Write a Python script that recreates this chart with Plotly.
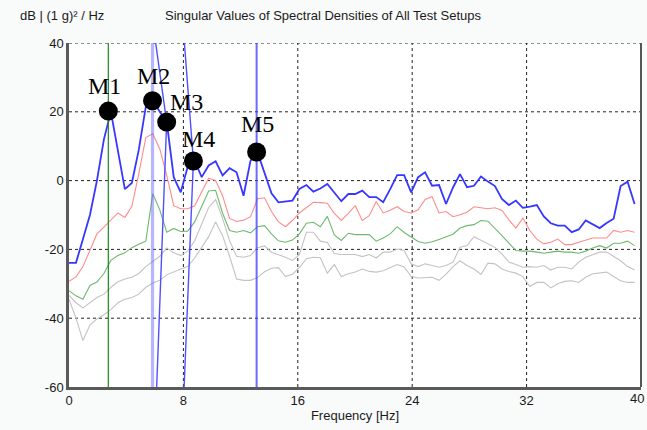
import numpy as np
import plotly.graph_objects as go

# ---------------- data ----------------
df_hz = 0.48828125
freq = [round(k * df_hz, 5) for k in range(82)]

sv1_blue = [-23.9, -23.9, -17, -10, 0, 12, 20, 9, -2.5, -0.7,
            9, 21.5, 23.3, 20, 17, 1, -3.4, 4, 5.8, 1.0,
            4.4, 5.6, 1.5, 3.6, 2.4, -4.4, 5.8, 8.2, 2, -3.7,
            -6.3, -6.1, -5.8, -2.4, -1.3, -3.2, -2.3, -1.0, -3.5, -6.0,
            -3.9, -3.9, -2.9, -4.8, -4.8, -6.3, -2.5, 1.6, 1.6, -3.4,
            1.0, 2.4, -1.5, -1.3, -6.8, -2.0, 1.9, -1.9, -1.5, 1.2,
            -0.3, -1.6, -5.3, -7.1, -5.8, -7.9, -7.6, -7.1, -10.4, -12.4,
            -13.1, -13.1, -15.0, -14.2, -11.6, -12.8, -13.8, -12.3, -11.1, -1.6,
            -0.3, -6.8]

sv2_red = [-29.3, -28, -25, -20, -15.5, -13.5, -11.3, -9.4, -10.7, -7.5,
           2, 12.5, 13.6, 9.2, 1.5, -7.3, -8.2, -8.2, -7.3, -3.4,
           0.7, 0, -4.4, -11, -11.9, -11.5, -10.5, -5.3, -5, -9,
           -12, -13.4, -11.6, -9.4, -7.8, -6.3, -6.4, -6.6, -9.5, -11.6,
           -9.5, -7.3, -11.6, -10.2, -6.1, -9.4, -8.6, -7.6, -9.0, -9.4,
           -8.5, -5.5, -4.7, -9.4, -9.0, -10.5, -9.9, -9.2, -7.6, -7.9,
           -8.2, -7.9, -8.7, -11.4, -13.8, -10.9, -14.5, -17.0, -18.4, -17.9,
           -17.0, -18.6, -18.6, -17.9, -17.2, -16.7, -16.7, -16.7, -14.5, -15.0,
           -14.5, -15.0]

sv3_green = [-32, -33.5, -34.5, -30.5, -29.5, -27, -23.2, -21.8, -21, -19.5,
             -18.5, -17.6, -3.8, -8.5, -15.0, -13.9, -14.8, -14.7, -12, -7.3,
             -3.0, -2.8, -9.5, -14.5, -15.0, -14.5, -15.2, -13.4, -13.1, -15.5,
             -17.5, -17.9, -17.3, -15.5, -12.4, -12.1, -13.4, -10.4, -15.8, -17.4,
             -15.3, -15.7, -15.7, -15.7, -17.6, -16.7, -15.5, -13.4, -15.1, -16.3,
             -17.7, -18.2, -17.8, -17.1, -16.3, -15.6, -13.8, -13.1, -12.8, -11.6,
             -11.8, -13.8, -16.0, -18.2, -20.3, -20.5, -20.5, -20.8, -21.1, -20.8,
             -20.5, -20.8, -20.8, -21.1, -20.5, -19.6, -18.9, -19.6, -18.2, -18.2,
             -17.6, -18.9]

sv4_gray = [-33.4, -35.5, -37, -35.4, -34, -33, -31, -29.4, -28.6, -28.1,
            -27, -25, -23.5, -22, -19.6, -21, -21.8, -20.5, -17.5, -12.5,
            -7.8, -5.5, -11, -17.5, -22, -22.3, -21.8, -19.5, -19.0, -20.8,
            -21.5, -22.3, -23.2, -21.5, -15.0, -15.0, -17.6, -18.0, -21.2, -21.5,
            -21.5, -21.5, -22.1, -21.5, -22.5, -20.8, -20.8, -19.9, -20.3, -24.2,
            -25.0, -24.2, -24.7, -25.2, -24.7, -23.7, -19.4, -18.9, -16.3, -17.4,
            -18.4, -19.4, -21.3, -23.7, -24.4, -25.2, -25.0, -25.2, -24.7, -26.0,
            -25.2, -25.2, -25.7, -23.7, -22.3, -21.5, -20.8, -20.8, -22.1, -23.3,
            -25.0, -26.0]

sv5_gray = [-34.5, -40, -46.5, -42, -40.2, -39, -37.5, -35.5, -34.5, -34,
            -33, -31, -29.8, -29, -27.4, -26.5, -25.7, -25, -22.5, -19.4,
            -16.3, -12, -16, -22, -28.6, -29.0, -29.0, -28.2, -26.5, -25.5,
            -25.3, -27.9, -27.2, -25.3, -22.7, -22.3, -22.4, -26.9, -24.4, -27.9,
            -27.1, -26.6, -25.7, -26.4, -26.6, -26.2, -25.2, -24.4, -25.1, -27.9,
            -28.3, -28.3, -28.1, -29.0, -27.2, -25.0, -23.3, -24.7, -25.7, -27.3,
            -24.0, -24.2, -25.7, -26.4, -26.9, -27.9, -30.8, -29.6, -29.6, -31.2,
            -30.0, -29.3, -29.1, -29.6, -28.1, -27.1, -26.9, -26.6, -27.9, -29.1,
            -29.6, -29.6]

mode_labels = ["M1", "M2", "M3", "M4", "M5"]
mode_freq = [2.75, 5.84, 6.83, 8.70, 13.12]
mode_db = [20.2, 23.2, 17.0, 5.7, 8.3]
# mode indicator lines: frequency where each line leaves the top / bottom of the plot
ind_top_freq = [2.75, 5.84, 6.06, 8.07, 13.12]
ind_bot_freq = [2.75, 5.84, 6.13, 8.05, 13.12]

x_ticks = [0, 8, 16, 24, 32, 40]
y_ticks = [-60, -40, -20, 0, 20, 40]
x_range = [0, 40]
y_range = [-60, 40]

# ---------------- styles ----------------
curve_styles = [
    (sv5_gray, "rgb(195,195,195)", 1.1),
    (sv4_gray, "rgb(195,195,195)", 1.1),
    (sv3_green, "rgb(110,185,110)", 1.1),
    (sv2_red, "rgb(255,140,140)", 1.1),
    (sv1_blue, "rgb(55,55,255)", 1.8),
]
ind_styles = [
    ("rgb(30,135,30)", 1.2),
    ("rgba(110,110,255,0.5)", 3.2),
    ("rgb(80,80,255)", 1.4),
    ("rgb(80,80,255)", 1.4),
    ("rgba(70,70,255,0.8)", 2.0),
]
label_shift = [(-4, 25), (1, 25), (20, 20), (5, 22), (1, 28)]

W, H = 647, 430
ml, mr, mt, mb = 69, 6, 43, 43
pw = W - ml - mr
ph = H - mt - mb

fig = go.Figure()

# dotted grid lines as line traces (drawn first, under the curves)
grid_style = dict(color="#222222", width=1, dash="dot")
for xv in x_ticks[1:]:
    fig.add_trace(go.Scatter(x=[xv, xv], y=y_range, mode="lines",
                             line=grid_style, hoverinfo="skip", cliponaxis=False))
for yv in y_ticks[1:]:
    fig.add_trace(go.Scatter(x=x_range, y=[yv, yv], mode="lines",
                             line=grid_style, hoverinfo="skip", cliponaxis=False))

for ys, col, w in curve_styles:
    fig.add_trace(go.Scatter(x=freq, y=ys, mode="lines",
                             line=dict(color=col, width=w), hoverinfo="skip"))

for i in range(len(mode_freq)):
    col, w = ind_styles[i]
    fig.add_trace(go.Scatter(
        x=[ind_top_freq[i], mode_freq[i], ind_bot_freq[i]],
        y=[y_range[1], mode_db[i], y_range[0]],
        mode="lines", line=dict(color=col, width=w), hoverinfo="skip"))

fig.add_trace(go.Scatter(x=mode_freq, y=mode_db, mode="markers",
                         marker=dict(color="black", size=19, line=dict(width=0)),
                         hoverinfo="skip"))

for i, lab in enumerate(mode_labels):
    dx, dy = label_shift[i]
    fig.add_annotation(x=mode_freq[i], y=mode_db[i], text=lab, showarrow=False,
                       xshift=dx, yshift=dy, xanchor="center", yanchor="middle",
                       font=dict(family="Liberation Sans" if False else "Liberation Serif",
                                 size=24, color="black"))

axis_font = dict(family="Liberation Sans", size=13, color="#1a1a1a")

# last x tick label (sits at the page edge)
fig.add_annotation(xref="x", yref="paper", x=x_ticks[-1], y=0, yshift=-11,
                   xshift=5, text=str(x_ticks[-1]), showarrow=False,
                   xanchor="right", yanchor="middle", font=axis_font)

fig.add_annotation(xref="paper", yref="paper",
                   x=(18 - ml) / pw, y=(H - mb - 15) / ph,
                   xanchor="left", yanchor="middle", showarrow=False,
                   text="dB | (1 g)² / Hz",
                   font=dict(family="Liberation Sans", size=13, color="#1a1a1a"))

# right border
fig.add_shape(type="line", xref="paper", yref="paper", x0=1, x1=1, y0=0, y1=1,
              line=dict(color="#555555", width=2))

fig.update_layout(
    width=W, height=H, autosize=False,
    margin=dict(l=ml, r=mr, t=mt, b=mb),
    paper_bgcolor="#f9fbfb", plot_bgcolor="#ffffff",
    showlegend=False,
    title=dict(text="Singular Values of Spectral Densities of All Test Setups",
               x=165 / W, xanchor="left", xref="container",
               y=1 - 15 / H, yanchor="middle", yref="container",
               font=dict(family="Liberation Sans", size=13, color="#1a1a1a")),
    xaxis=dict(range=x_range, tickvals=x_ticks[:-1],
               ticktext=[str(v) for v in x_ticks[:-1]],
               showgrid=False, zeroline=False, showline=True,
               linecolor="#5a5a5a", linewidth=2.5,
               ticks="", tickfont=axis_font,
               title=dict(text="Frequency [Hz]", font=axis_font, standoff=4)),
    yaxis=dict(range=y_range, tickvals=y_ticks, ticktext=[str(v) for v in y_ticks],
               showgrid=False, zeroline=False, showline=True,
               linecolor="#5a5a5a", linewidth=2.5,
               ticks="", tickfont=axis_font),
)

fig.write_html("out.html")
